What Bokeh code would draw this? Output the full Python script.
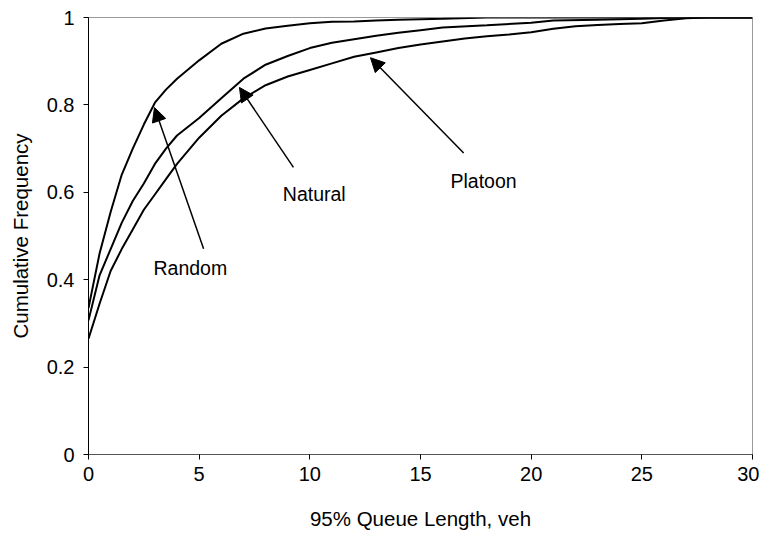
from bokeh.plotting import figure
from bokeh.models import Range1d, FixedTicker, Arrow, NormalHead, Label
from bokeh.embed import file_html
from bokeh.resources import INLINE

# Data
random_x = [0, 0.5, 1, 1.5, 2, 2.5, 3, 3.5, 4, 5, 6, 7, 8, 9, 10, 11, 12, 13, 14, 16, 18, 30]
random_y = [0.335, 0.46, 0.555, 0.64, 0.70, 0.755, 0.805, 0.835, 0.86, 0.902, 0.94, 0.963,
            0.975, 0.981, 0.987, 0.99, 0.991, 0.993, 0.995, 0.997, 1.0, 1.0]

natural_x = [0, 0.5, 1, 1.5, 2, 2.5, 3, 3.5, 4, 5, 6, 7, 8, 9, 10, 11, 12, 13, 14, 15, 16,
             18, 20, 21, 23, 25, 26, 27, 30]
natural_y = [0.307, 0.41, 0.47, 0.53, 0.58, 0.62, 0.665, 0.70, 0.73, 0.77, 0.815, 0.86, 0.892,
             0.912, 0.93, 0.942, 0.95, 0.958, 0.965, 0.971, 0.977, 0.982, 0.988, 0.993, 0.995,
             0.997, 0.999, 1.0, 1.0]

platoon_x = [0, 0.5, 1, 1.5, 2, 2.5, 3, 3.5, 4, 5, 6, 7, 8, 9, 10, 11, 12, 13, 14, 15, 16, 17,
             18, 19, 20, 21, 22, 23, 24, 25, 26, 27, 28, 30]
platoon_y = [0.265, 0.345, 0.42, 0.47, 0.515, 0.56, 0.595, 0.63, 0.665, 0.725, 0.775, 0.815,
             0.845, 0.865, 0.88, 0.895, 0.91, 0.92, 0.93, 0.938, 0.945, 0.952, 0.957, 0.961,
             0.966, 0.974, 0.98, 0.983, 0.985, 0.987, 0.993, 0.998, 1.0, 1.0]

x_ticks = [0, 5, 10, 15, 20, 25, 30]
y_ticks = [0, 0.2, 0.4, 0.6, 0.8, 1.0]
y_tick_labels = ["0", "0.2", "0.4", "0.6", "0.8", "1"]

# annotations: label text, label position, arrow tail, arrow tip
labels = ["Random", "Natural", "Platoon"]
label_x = [4.6, 10.2, 17.85]
label_y = [0.426, 0.597, 0.627]
arrow_tail_x = [5.2, 9.26, 16.95]
arrow_tail_y = [0.471, 0.657, 0.69]
arrow_tip_x = [2.98, 6.82, 12.74]
arrow_tip_y = [0.794, 0.84, 0.908]

FONT = "Liberation Sans"

p = figure(width=759, height=533, output_backend="svg", toolbar_location=None,
           x_range=Range1d(0, 30), y_range=Range1d(0, 1),
           min_border_left=88, min_border_right=7, min_border_top=17, min_border_bottom=79)
p.background_fill_color = "white"
p.border_fill_color = "white"
p.outline_line_color = "#9a9a9a"
p.outline_line_width = 1
p.xgrid.visible = False
p.ygrid.visible = False

for xs, ys in [(random_x, random_y), (natural_x, natural_y), (platoon_x, platoon_y)]:
    p.line(xs, ys, line_color="black", line_width=2)

for ax in (p.xaxis[0], p.yaxis[0]):
    ax.major_tick_in = 0
    ax.major_tick_out = 5
    ax.minor_tick_line_color = None
    ax.major_label_text_font = FONT
    ax.major_label_text_font_size = "20px"
    ax.major_label_text_color = "black"
    ax.axis_label_text_font = FONT
    ax.axis_label_text_font_size = "20.5px"
    ax.axis_label_text_font_style = "normal"
    ax.axis_label_text_color = "black"

p.xaxis.ticker = FixedTicker(ticks=x_ticks)
p.yaxis.ticker = FixedTicker(ticks=y_ticks)
p.yaxis.major_label_overrides = {t: l for t, l in zip(y_ticks, y_tick_labels)}
p.xaxis.axis_label = "95% Queue Length, veh"
p.yaxis.axis_label = "Cumulative Frequency"
p.xaxis.axis_line_color = "#555555"
p.yaxis.axis_line_color = "black"
p.xaxis.major_label_standoff = 7
p.yaxis.major_label_standoff = 9
p.xaxis.axis_label_standoff = 23
p.yaxis.axis_label_standoff = 12

for i in range(len(labels)):
    p.add_layout(Arrow(end=NormalHead(size=14, fill_color="black", line_color="black"),
                       x_start=arrow_tail_x[i], y_start=arrow_tail_y[i],
                       x_end=arrow_tip_x[i], y_end=arrow_tip_y[i],
                       line_color="black", line_width=1.5))
    p.add_layout(Label(x=label_x[i], y=label_y[i], text=labels[i],
                       text_font=FONT, text_font_size="19.5px", text_color="black",
                       text_align="center", text_baseline="middle"))

open("out.html", "w").write(file_html(p, INLINE))
